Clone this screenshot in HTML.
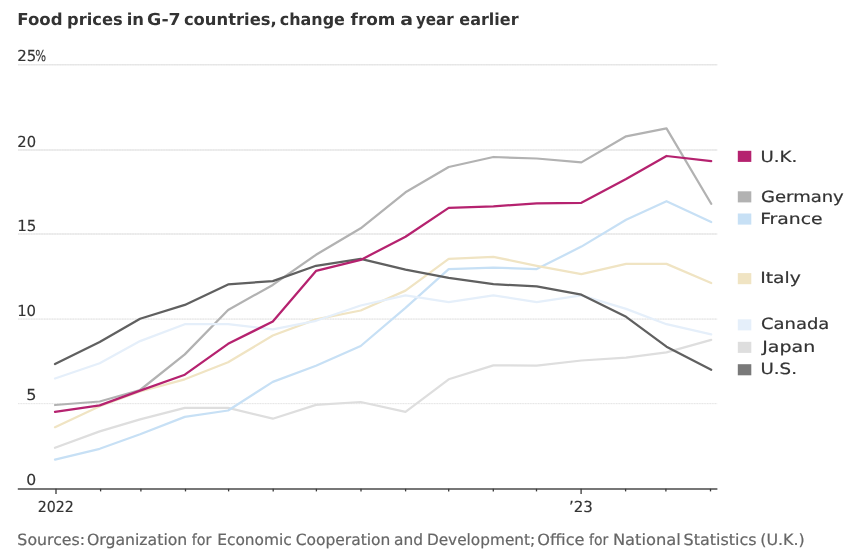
<!DOCTYPE html>
<html lang="en"><head><meta charset="utf-8"><title>Food prices in G-7 countries</title>
<style>
html,body{margin:0;padding:0;background:#fff}
svg{display:block}
text{font-family:"DejaVu Sans","Liberation Sans",sans-serif;text-rendering:geometricPrecision}
.t{font-weight:bold;font-size:16.6px;fill:#333}
.s{font-size:15.5px;fill:#666;stroke:#666;stroke-width:.2px}
.l{font-size:15.4px;fill:#333;stroke:#333;stroke-width:.2px}
.a{font-size:15.2px;fill:#333;stroke:#333;stroke-width:.15px}
</style></head><body>
<svg width="861" height="556" viewBox="0 0 861 556">
<rect width="861" height="556" fill="#fff"/>
<text class="t" y="25"><tspan x="17.27" textLength="45.30" lengthAdjust="spacingAndGlyphs">Food</tspan> <tspan x="67.12" textLength="55.56" lengthAdjust="spacingAndGlyphs">prices</tspan> <tspan x="126.70" textLength="17.37" lengthAdjust="spacingAndGlyphs">in</tspan> <tspan x="147.13" textLength="33.59" lengthAdjust="spacingAndGlyphs">G-7</tspan> <tspan x="183.90" textLength="92.89" lengthAdjust="spacingAndGlyphs">countries,</tspan> <tspan x="279.72" textLength="65.14" lengthAdjust="spacingAndGlyphs">change</tspan> <tspan x="350.56" textLength="44.89" lengthAdjust="spacingAndGlyphs">from</tspan> <tspan x="400.19" textLength="12.82" lengthAdjust="spacingAndGlyphs">a</tspan> <tspan x="415.91" textLength="37.84" lengthAdjust="spacingAndGlyphs">year</tspan> <tspan x="459.32" textLength="59.23" lengthAdjust="spacingAndGlyphs">earlier</tspan></text>
<line x1="18" x2="717.4" y1="64.7" y2="64.7" stroke="#e9e9e9" stroke-width="1.4"/>
<line x1="18" x2="717.4" y1="64.7" y2="64.7" stroke="#e4e4e4" stroke-width="0.9" stroke-dasharray="1.3 1.3"/>
<line x1="18" x2="717.4" y1="150.0" y2="150.0" stroke="#e9e9e9" stroke-width="1.4"/>
<line x1="18" x2="717.4" y1="150.0" y2="150.0" stroke="#e4e4e4" stroke-width="0.9" stroke-dasharray="1.3 1.3"/>
<line x1="18" x2="717.4" y1="234.0" y2="234.0" stroke="#ebebeb" stroke-width="1.4"/>
<line x1="18" x2="717.4" y1="234.0" y2="234.0" stroke="#e2e2e2" stroke-width="0.9" stroke-dasharray="1.3 1.3"/>
<line x1="18" x2="717.4" y1="319.1" y2="319.1" stroke="#f0f0f0" stroke-width="1.4"/>
<line x1="18" x2="717.4" y1="319.1" y2="319.1" stroke="#e2e2e2" stroke-width="0.9" stroke-dasharray="1.3 1.3"/>
<line x1="18" x2="717.4" y1="403.6" y2="403.6" stroke="#f5f5f5" stroke-width="1.4"/>
<line x1="18" x2="717.4" y1="403.6" y2="403.6" stroke="#e4e4e4" stroke-width="0.9" stroke-dasharray="1.3 1.3"/>
<text class="a" y="61"><tspan x="17.31" textLength="19.06" lengthAdjust="spacingAndGlyphs">25</tspan><tspan x="35.27" textLength="10.86" lengthAdjust="spacingAndGlyphs">%</tspan></text>
<text class="a" transform="translate(17.33 147) scale(0.9680 1)">20</text>
<text class="a" transform="translate(17.14 231) scale(0.9952 1)">15</text>
<text class="a" transform="translate(17.17 316) scale(0.9771 1)">10</text>
<text class="a" transform="translate(26.25 400) scale(1.0582 1)">5</text>
<text class="a" transform="translate(26.18 485) scale(1.0292 1)">0</text>
<path d="M55.0 447.8 L99.7 431.4 L140.1 419.4 L184.8 407.9 L228.1 407.9 L272.8 418.7 L316.0 404.9 L360.7 402.0 L405.5 411.8 L448.7 379.3 L493.4 365.4 L536.7 365.6 L581.4 360.5 L626.1 357.6 L666.5 352.3 L711.2 339.8" fill="none" stroke="#dedede" stroke-width="2.25" stroke-linejoin="round" stroke-linecap="round"/>
<path d="M55.0 405.0 L99.7 401.5 L140.1 390.0 L184.8 354.4 L228.1 310.0 L272.8 284.9 L316.0 254.8 L360.7 228.3 L405.5 192.3 L448.7 167.0 L493.4 157.0 L536.7 158.5 L581.4 162.4 L626.1 136.3 L666.5 128.4 L711.2 203.8" fill="none" stroke="#b2b2b2" stroke-width="2.25" stroke-linejoin="round" stroke-linecap="round"/>
<path d="M55.0 459.6 L99.7 448.8 L140.1 434.3 L184.8 416.9 L228.1 410.5 L272.8 381.9 L316.0 365.8 L360.7 346.0 L405.5 307.9 L448.7 269.1 L493.4 267.6 L536.7 269.1 L581.4 246.6 L626.1 219.8 L666.5 201.2 L711.2 222.0" fill="none" stroke="#c7e0f5" stroke-width="2.25" stroke-linejoin="round" stroke-linecap="round"/>
<path d="M55.0 427.2 L99.7 406.3 L140.1 391.5 L184.8 379.3 L228.1 362.3 L272.8 335.5 L316.0 319.4 L360.7 310.5 L405.5 290.6 L448.7 258.9 L493.4 256.8 L536.7 265.8 L581.4 274.2 L626.1 263.9 L666.5 263.9 L711.2 283.0" fill="none" stroke="#f0e4c3" stroke-width="2.25" stroke-linejoin="round" stroke-linecap="round"/>
<path d="M55.0 378.5 L99.7 363.2 L140.1 341.1 L184.8 324.2 L228.1 324.2 L272.8 329.3 L316.0 320.8 L360.7 305.5 L405.5 295.4 L448.7 302.1 L493.4 295.4 L536.7 302.1 L581.4 295.4 L626.1 308.9 L666.5 324.2 L711.2 334.4" fill="none" stroke="#e5effa" stroke-width="2.25" stroke-linejoin="round" stroke-linecap="round"/>
<path d="M55.0 364.1 L99.7 342.0 L140.1 318.7 L184.8 304.9 L228.1 284.4 L272.8 281.1 L316.0 265.8 L360.7 258.9 L405.5 269.6 L448.7 277.8 L493.4 284.2 L536.7 286.4 L581.4 294.7 L626.1 316.8 L666.5 346.7 L711.2 369.7" fill="none" stroke="#606060" stroke-width="2.25" stroke-linejoin="round" stroke-linecap="round"/>
<path d="M55.0 411.8 L99.7 405.4 L140.1 390.6 L184.8 374.7 L228.1 343.8 L272.8 321.5 L316.0 270.9 L360.7 259.9 L405.5 236.8 L448.7 207.9 L493.4 206.3 L536.7 203.3 L581.4 202.8 L626.1 179.0 L666.5 156.0 L711.2 161.1" fill="none" stroke="#b5226f" stroke-width="2.25" stroke-linejoin="round" stroke-linecap="round"/>
<line x1="17.8" x2="717.4" y1="489" y2="489" stroke="#4a4a4a" stroke-width="1.6"/>
<line x1="56.0" x2="56.0" y1="488.8" y2="494.0" stroke="#3a3a3a" stroke-width="1.3"/>
<line x1="100.6" x2="100.6" y1="488.8" y2="491.4" stroke="#3a3a3a" stroke-width="1.3"/>
<line x1="140.9" x2="140.9" y1="488.8" y2="491.4" stroke="#3a3a3a" stroke-width="1.3"/>
<line x1="185.5" x2="185.5" y1="488.8" y2="491.4" stroke="#3a3a3a" stroke-width="1.3"/>
<line x1="228.6" x2="228.6" y1="488.8" y2="491.4" stroke="#3a3a3a" stroke-width="1.3"/>
<line x1="273.2" x2="273.2" y1="488.8" y2="491.4" stroke="#3a3a3a" stroke-width="1.3"/>
<line x1="316.4" x2="316.4" y1="488.8" y2="491.4" stroke="#3a3a3a" stroke-width="1.3"/>
<line x1="361.0" x2="361.0" y1="488.8" y2="491.4" stroke="#3a3a3a" stroke-width="1.3"/>
<line x1="405.6" x2="405.6" y1="488.8" y2="491.4" stroke="#3a3a3a" stroke-width="1.3"/>
<line x1="448.7" x2="448.7" y1="488.8" y2="491.4" stroke="#3a3a3a" stroke-width="1.3"/>
<line x1="493.3" x2="493.3" y1="488.8" y2="491.4" stroke="#3a3a3a" stroke-width="1.3"/>
<line x1="536.5" x2="536.5" y1="488.8" y2="491.4" stroke="#3a3a3a" stroke-width="1.3"/>
<line x1="581.1" x2="581.1" y1="488.8" y2="494.0" stroke="#3a3a3a" stroke-width="1.3"/>
<line x1="625.6" x2="625.6" y1="488.8" y2="491.4" stroke="#3a3a3a" stroke-width="1.3"/>
<line x1="665.9" x2="665.9" y1="488.8" y2="491.4" stroke="#3a3a3a" stroke-width="1.3"/>
<line x1="710.5" x2="710.5" y1="488.8" y2="491.4" stroke="#3a3a3a" stroke-width="1.3"/>
<text class="a" transform="translate(37.67 512) scale(0.9345 1)">2022</text>
<text class="a" transform="translate(568.88 512) scale(0.9897 1)">’23</text>
<rect x="737.8" y="150.8" width="13.5" height="11.1" fill="#b5226f"/>
<text class="l" transform="translate(760.41 162) scale(1.1797 1)">U.K.</text>
<rect x="737.8" y="191.3" width="13.5" height="11.1" fill="#b2b2b2"/>
<text class="l" transform="translate(761.01 202) scale(1.1699 1)">Germany</text>
<rect x="737.8" y="213.5" width="13.5" height="11.1" fill="#c7e0f5"/>
<text class="l" transform="translate(760.17 224) scale(1.2210 1)">France</text>
<rect x="737.8" y="273.1" width="13.5" height="11.1" fill="#f0e4c3"/>
<text class="l" transform="translate(760.17 283) scale(1.2176 1)">Italy</text>
<rect x="737.8" y="319.3" width="13.5" height="11.1" fill="#e5effa"/>
<text class="l" transform="translate(761.01 329) scale(1.1674 1)">Canada</text>
<rect x="737.8" y="341.8" width="13.5" height="11.1" fill="#dedede"/>
<text class="l" transform="translate(762.20 352) scale(1.2339 1)">Japan</text>
<rect x="737.8" y="364.2" width="13.5" height="11.1" fill="#797979"/>
<text class="l" transform="translate(760.40 374) scale(1.1855 1)">U.S.</text>
<text class="s" y="545"><tspan x="17.38" textLength="67.68" lengthAdjust="spacingAndGlyphs">Sources:</tspan> <tspan x="86.94" textLength="100.37" lengthAdjust="spacingAndGlyphs">Organization</tspan> <tspan x="191.78" textLength="19.62" lengthAdjust="spacingAndGlyphs">for</tspan> <tspan x="217.20" textLength="74.58" lengthAdjust="spacingAndGlyphs">Economic</tspan> <tspan x="295.65" textLength="94.75" lengthAdjust="spacingAndGlyphs">Cooperation</tspan> <tspan x="394.08" textLength="28.99" lengthAdjust="spacingAndGlyphs">and</tspan> <tspan x="426.91" textLength="108.28" lengthAdjust="spacingAndGlyphs">Development;</tspan> <tspan x="537.31" textLength="47.16" lengthAdjust="spacingAndGlyphs">Office</tspan> <tspan x="589.09" textLength="19.21" lengthAdjust="spacingAndGlyphs">for</tspan> <tspan x="612.91" textLength="67.99" lengthAdjust="spacingAndGlyphs">National</tspan> <tspan x="683.56" textLength="72.92" lengthAdjust="spacingAndGlyphs">Statistics</tspan> <tspan x="760.25" textLength="44.52" lengthAdjust="spacingAndGlyphs">(U.K.)</tspan></text>
</svg></body></html>
